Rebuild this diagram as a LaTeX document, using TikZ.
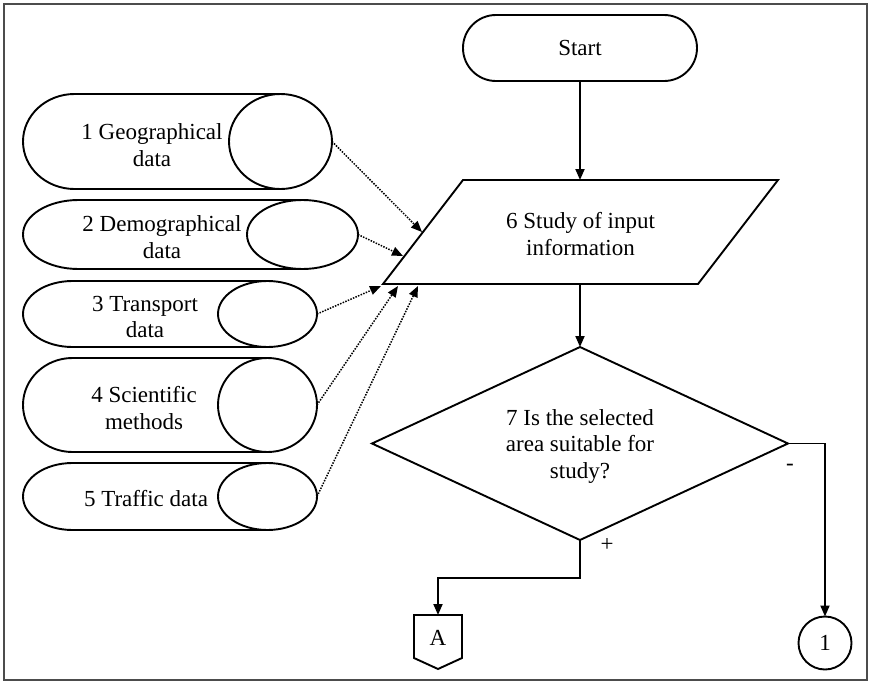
\documentclass[tikz,border=0pt]{standalone}
\usepackage{fontspec}
\setmainfont{Liberation Serif}
\usetikzlibrary{shapes.geometric,arrows.meta}
\begin{document}
\begin{tikzpicture}[x=1pt,y=-1pt,
  line/.style={line width=1.9pt, draw=black},
  shapebox/.style={draw=black, line width=1.9pt, inner sep=0pt, outer sep=0pt},
  arr/.style={line width=1.9pt, -{Triangle[length=11pt,width=9pt]}},
  dotarr/.style={line width=1.5pt, dash pattern=on 1.5pt off 1.3pt, -{Triangle[length=11pt,width=9pt]}},
  lbl/.style={font=\fontsize{23}{26.5}\selectfont, align=center, inner sep=0pt},
  storeell/.style={ellipse, draw=black, line width=1.9pt, inner sep=0pt, outer sep=0pt}
]
\useasboundingbox (0,0) rectangle (871,683);
\draw[draw=black!70, line width=2.2pt] (4,4) rectangle (867,680);

% Start
\node[shapebox, rounded corners=33pt, minimum width=234pt, minimum height=66pt, lbl] (start) at (580,48) {Start};

% storage shapes
\draw[line] (280.5,94) -- (74.5,94) arc[start angle=270,end angle=90,x radius=51.5,y radius=47.5] -- (280.5,189);
\node[storeell, minimum width=103pt, minimum height=95pt] (e1) at (280.5,141.5) {};
\node[lbl] (s1) at (152,145) {1 Geographical\\data};

\draw[line] (302.5,200) -- (78.5,200) arc[start angle=270,end angle=90,x radius=55.5,y radius=34.5] -- (302.5,269);
\node[storeell, minimum width=111pt, minimum height=69pt] (e2) at (302.5,234.5) {};
\node[lbl] (s2) at (162,237) {2 Demographical\\data};

\draw[line] (267.5,281) -- (72.5,281) arc[start angle=270,end angle=90,x radius=49.5,y radius=33] -- (267.5,347);
\node[storeell, minimum width=99pt, minimum height=66pt] (e3) at (267.5,314) {};
\node[lbl] (s3) at (145,317) {3 Transport\\data};

\draw[line] (267.5,358) -- (72.5,358) arc[start angle=270,end angle=90,x radius=49.5,y radius=47] -- (267.5,452);
\node[storeell, minimum width=99pt, minimum height=94pt] (e4) at (267.5,405) {};
\node[lbl] (s4) at (144,408) {4 Scientific\\methods};

\draw[line] (267.5,463) -- (72.5,463) arc[start angle=270,end angle=90,x radius=49.5,y radius=33.5] -- (267.5,530);
\node[storeell, minimum width=99pt, minimum height=67pt] (e5) at (267.5,496.5) {};
\node[lbl] (s5) at (146,499) {5 Traffic data};

% parallelogram 6
\draw[line, line join=miter] (463,180) -- (778,180) -- (698,284) -- (383,284) -- cycle;
\node[lbl] (p6) at (580.5,234) {6 Study of input\\information};
\coordinate (p6top) at (580,180);
\coordinate (p6bot) at (580,284);
\coordinate (t1) at (422,232);
\coordinate (t2) at (403,256);
\coordinate (t3) at (381,286);
\coordinate (t4) at (398,286);
\coordinate (t5) at (418,286);

% diamond 7
\node[diamond, shapebox, aspect=2.155, minimum width=416pt, minimum height=193pt] (d7) at (580,443.5) {};
\node[lbl] (q7) at (580,446) {7 Is the selected\\area suitable for\\study?};

% connector A
\draw[shapebox, line join=miter] (414,615) -- (462,615) -- (462,658) -- (438,669) -- (414,658) -- cycle;
\node[lbl] (A) at (438,638) {A};
\coordinate (Atop) at (438,615);
\coordinate (bendA) at (438,578);

% circle 1
\node[circle, shapebox, minimum size=53pt, lbl] (n1) at (825,643) {1};

% labels
\node[lbl] (plus) at (607,545) {+};
\node[lbl] (minus) at (790,467) {-};

% connectors
\draw[arr] (start.south) -- (p6top);
\draw[arr] (p6bot) -- (d7.north);
\draw[arr] (d7.south) |- (bendA) -- (Atop);
\draw[arr] (d7.east) -| (n1.north);

\draw[dotarr] (e1.east) -- (t1);
\draw[dotarr] (e2.east) -- (t2);
\draw[dotarr] (e3.east) -- (t3);
\draw[dotarr] (e4.east) -- (t4);
\draw[dotarr] (e5.east) -- (t5);
\end{tikzpicture}
\end{document}
